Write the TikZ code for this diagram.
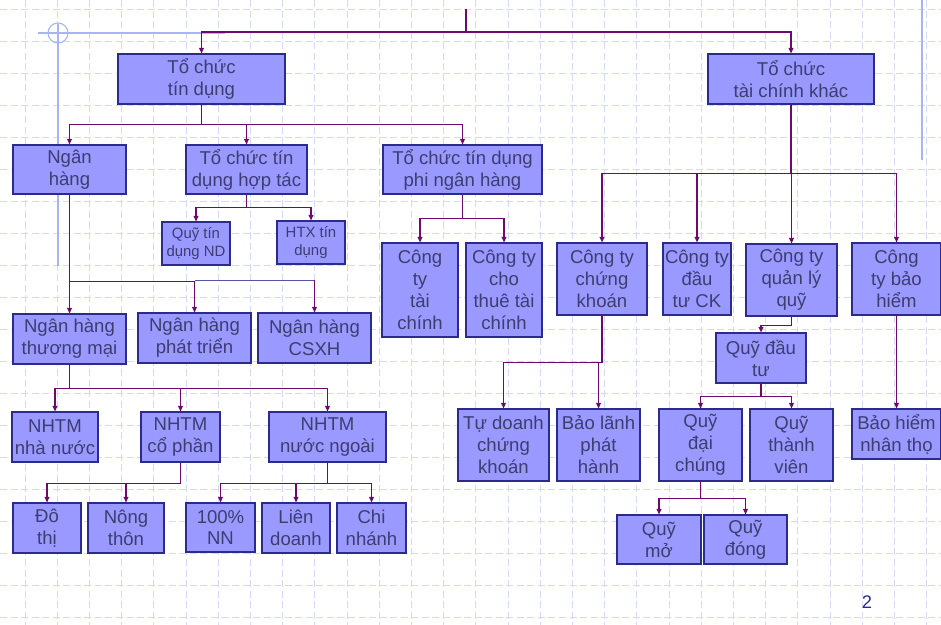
\documentclass[tikz,border=0pt]{standalone}
\usepackage{fontspec}
\setmainfont{Liberation Sans}
\usetikzlibrary{arrows.meta}
\definecolor{boxfill}{HTML}{9999FF}
\definecolor{boxline}{HTML}{2B2B8C}
\definecolor{boxtext}{HTML}{3D3D70}
\definecolor{linkcol}{HTML}{6E0A6E}
\definecolor{gridcol}{HTML}{D3DAF6}
\definecolor{decocol}{HTML}{A6B6F4}
\begin{document}
\begin{tikzpicture}[x=0.025cm,y=-0.025cm,
		box/.style={draw=boxline,fill=boxfill,text=boxtext,line width=0.8pt,
			inner sep=0pt,align=center,font=\fontsize{13.2}{15.6}\selectfont},
		small/.style={font=\fontsize{10.6}{12.4}\selectfont},
		sz/.style 2 args={minimum width=#1*0.025cm,minimum height=#2*0.025cm},
		link/.style={draw=linkcol,line width=1pt,-{Triangle[length=4pt,width=3.5pt]}},
		trunk/.style={draw=linkcol,line width=1.4pt},
		bluelink/.style={draw=boxline!80,line width=0.6pt},
		gridline/.style={draw=gridcol,line width=0.6pt,dash pattern=on 5pt off 2.5pt},
		deco/.style={draw=decocol,line width=0.8pt}]
		\useasboundingbox (0,0) rectangle (941,625);
		% squared paper
		\foreach \gy in {9,41,...,617}
			\draw[gridline] (0,\gy) -- (941,\gy);
		\foreach \k in {0,...,28}
			\draw[gridline] ({25+32.2*\k},0) -- ({25+32.2*\k},625);
		\draw[deco] (38,33) -- (225,33);
		\draw[deco] (58,24) -- (58,266);
		\draw[deco] (58,33) circle (10);
		\draw[deco] (922,0) -- (922,160);

		% level 1
		\coordinate (top) at (466,9);
		\node[box,sz={167}{50}] (tcd) at (201.5,79) {Tổ chức\\tín dụng};
		\node[box,sz={166}{50}] (tck) at (791,79) {Tổ chức\\tài chính khác};

		% credit institutions
		\node[box,sz={113}{49}] (nh) at (69.5,169.5) {Ngân\\hàng};
		\node[box,sz={121}{49}] (tht) at (246.5,169.5) {Tổ chức tín\\dụng hợp tác};
		\node[box,sz={159}{49}] (tpn) at (462.5,169.5) {Tổ chức tín dụng\\phi ngân hàng};
		\node[box,small,sz={68}{43}] (qtd) at (196,243.5) {Quỹ tín\\dụng ND};
		\node[box,small,sz={68}{43}] (htx) at (311,242.5) {HTX tín\\dụng};
		\node[box,sz={113}{50}] (nhtm) at (69.5,339) {Ngân hàng\\thương mại};
		\node[box,sz={113}{50}] (nhpt) at (194.5,338) {Ngân hàng\\phát triển};
		\node[box,sz={113}{50}] (csxh) at (314.5,338) {Ngân hàng\\CSXH};
		\node[box,sz={76}{94}] (cttc) at (420,290) {Công\\ty\\tài\\chính};
		\node[box,sz={76}{94}] (cttt) at (504,290) {Công ty\\cho\\thuê tài\\chính};
		\node[box,sz={86}{50}] (nhnn) at (55,437) {NHTM\\nhà nước};
		\node[box,sz={79}{50}] (nhcp) at (180.5,437) {NHTM\\cổ phần};
		\node[box,sz={117}{50}] (nhng) at (327.5,437) {NHTM\\nước ngoài};
		\node[box,sz={68}{50}] (dth) at (47,528) {Đô\\thị};
		\node[box,sz={76}{50}] (nth) at (126,528) {Nông\\thôn};
		\node[box,sz={69}{49}] (nn100) at (220.5,527.5) {100\%\\NN};
		\node[box,sz={68}{50}] (ld) at (296,528) {Liên\\doanh};
		\node[box,sz={69}{50}] (cn) at (371.5,528) {Chi\\nhánh};

		% other financial institutions
		\node[box,sz={90}{72}] (ctck) at (602,279) {Công ty\\chứng\\khoán};
		\node[box,sz={68}{72}] (ctdt) at (697,279) {Công ty\\đầu\\tư CK};
		\node[box,sz={91}{72}] (ctql) at (791.5,280) {Công ty\\quản lý\\quỹ};
		\node[box,sz={89}{72}] (ctbh) at (896.5,279) {Công\\ty bảo\\hiểm};
		\node[box,sz={90}{50}] (qdt) at (761,358) {Quỹ đầu\\tư};
		\node[box,sz={91}{72}] (tdck) at (503.5,445) {Tự doanh\\chứng\\khoán};
		\node[box,sz={83}{72}] (blph) at (598.5,445) {Bảo lãnh\\phát\\hành};
		\node[box,sz={83}{72}] (qdc) at (700.5,445) {Quỹ\\đại\\chúng};
		\node[box,sz={83}{72}] (qtv) at (791.5,445) {Quỹ\\thành\\viên};
		\node[box,sz={89}{50}] (bhnt) at (896.5,434) {Bảo hiểm\\nhân thọ};
		\node[box,sz={84}{49}] (qm) at (659,539.5) {Quỹ\\mở};
		\node[box,sz={83}{49}] (qdg) at (745.5,539.5) {Quỹ\\đóng};

		\node[text=boxline,font=\fontsize{13}{15}\selectfont] (pg) at (867,602) {2};

		% connectors
		\draw[link] (top) -- ++(0,23) -| (tcd.north);
		\draw[link] (top) -- ++(0,23) -| (tck.north);
		\draw[link] (tcd.south) -- ++(0,20) -| (nh.north);
		\draw[link] (tcd.south) -- ++(0,20) -| (tht.north);
		\draw[link] (tcd.south) -- ++(0,20) -| (tpn.north);
		\draw[link] (tht.south) -- ++(0,13) -| (qtd.north);
		\draw[link] (tht.south) -- ++(0,13) -| (htx.north);
		\draw[link] (nh.south) -- (nhtm.north);
		\draw[link] (nh.south) -- ++(0,87) -| (nhpt.north);
		\draw[bluelink] (nhpt.north) ++(0,-32) -| (csxh.north);
		\draw[link] (csxh.north) ++(0,-32) -- (csxh.north);
		\draw[link] (tpn.south) -- ++(0,24) -| (cttc.north);
		\draw[link] (tpn.south) -- ++(0,24) -| (cttt.north);
		\draw[link] (nhtm.south) -- ++(0,24) -| (nhnn.north);
		\draw[link] (nhtm.south) -- ++(0,24) -| (nhcp.north);
		\draw[link] (nhtm.south) -- ++(0,24) -| (nhng.north);
		\draw[link] (nhcp.south) -- ++(0,21) -| (dth.north);
		\draw[link] (nhcp.south) -- ++(0,21) -| (nth.north);
		\draw[link] (nhng.south) -- ++(0,21) -| (nn100.north);
		\draw[link] (nhng.south) -- ++(0,21) -| (ld.north);
		\draw[link] (nhng.south) -- ++(0,21) -| (cn.north);
		\draw[trunk] (tck.south) -- ++(0,69);
		\draw[link] (tck.south) -- ++(0,69) -| (ctck.north);
		\draw[link] (tck.south) -- ++(0,69) -| (ctdt.north);
		\draw[link] (tck.south) -- ++(0,69) -| (ctql.north);
		\draw[link] (tck.south) -- ++(0,69) -| (ctbh.north);
		\draw[link] (ctql.south) -- ++(0,9) -| (qdt.north);
		\draw[link] (ctck.south) -- ++(0,47) -| (tdck.north);
		\draw[link] (ctck.south) -- ++(0,47) -| (blph.north);
		\draw[link] (ctbh.south) -- (bhnt.north);
		\draw[link] (qdt.south) -- ++(0,13) -| (qdc.north);
		\draw[link] (qdt.south) -- ++(0,13) -| (qtv.north);
		\draw[link] (qdc.south) -- ++(0,17) -| (qm.north);
		\draw[link] (qdc.south) -- ++(0,17) -| (qdg.north);
	\end{tikzpicture}
\end{document}
